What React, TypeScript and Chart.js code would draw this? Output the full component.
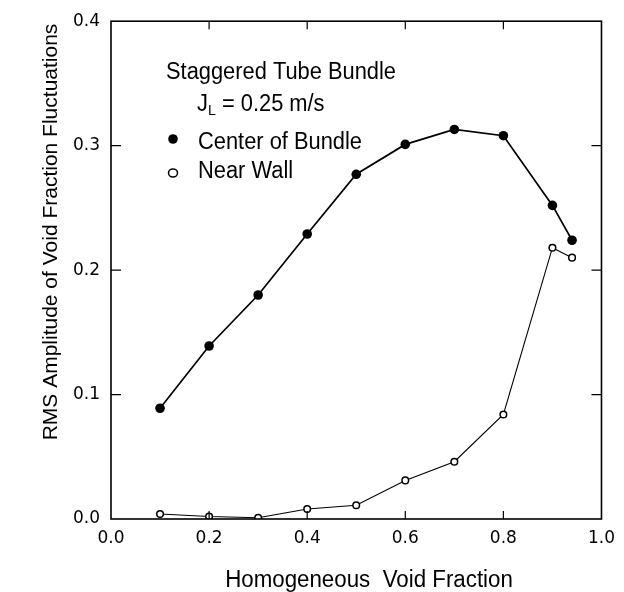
import React, { useEffect, useRef } from "react";
import { Chart, registerables } from "chart.js";

Chart.register(...registerables);

const xTickStep = 0.2;
const yTickStep = 0.1;
const centerX = [0.1, 0.2, 0.3, 0.4, 0.5, 0.6, 0.7, 0.8, 0.9, 0.94];
const centerY = [0.089, 0.139, 0.18, 0.229, 0.277, 0.301, 0.313, 0.308, 0.252, 0.224];
const wallX = [0.1, 0.2, 0.3, 0.4, 0.5, 0.6, 0.7, 0.8, 0.9, 0.94];
const wallY = [0.004, 0.002, 0.001, 0.008, 0.011, 0.031, 0.046, 0.084, 0.218, 0.21];
const xTitle = "Homogeneous  Void Fraction";
const yTitle = "RMS Amplitude of Void Fraction Fluctuations";
const legendTitle = "Staggered Tube Bundle";
const legendSub = ["J", "L", " = 0.25 m/s"];
const centerLabel = "Center of Bundle";
const wallLabel = "Near Wall";

const TEXT_FONT = "'Liberation Sans', Arial, sans-serif";
const TICK_FONT = "'DejaVu Sans', sans-serif";

function drawScaled(ctx: any, text: string, x: number, y: number, size: number, sx: number) {
  ctx.save();
  ctx.translate(x, y);
  ctx.scale(sx, 1);
  ctx.font = `${size}px ${TEXT_FONT}`;
  ctx.fillText(text, 0, 0);
  const w = ctx.measureText(text).width * sx;
  ctx.restore();
  return w;
}

const framePlugin = {
  id: "framePlugin",
  afterDraw(chart: any) {
    const { ctx, chartArea: a, scales } = chart;
    const xs = scales.x;
    const ys = scales.y;
    ctx.save();
    ctx.strokeStyle = "#000";
    ctx.lineWidth = 1.6;
    ctx.strokeRect(a.left, a.top, a.right - a.left, a.bottom - a.top);
    ctx.lineWidth = 1.2;
    const tl = 10;
    xs.ticks.forEach((t: any) => {
      const px = xs.getPixelForValue(t.value);
      if (px <= a.left + 1 || px >= a.right - 1) return;
      ctx.beginPath();
      ctx.moveTo(px, a.bottom);
      ctx.lineTo(px, a.bottom - tl + 2);
      ctx.moveTo(px, a.top);
      ctx.lineTo(px, a.top + tl - 2);
      ctx.stroke();
    });
    ys.ticks.forEach((t: any) => {
      const py = ys.getPixelForValue(t.value);
      if (py <= a.top + 1 || py >= a.bottom - 1) return;
      ctx.beginPath();
      ctx.moveTo(a.left, py);
      ctx.lineTo(a.left + tl, py);
      ctx.moveTo(a.right, py);
      ctx.lineTo(a.right - tl, py);
      ctx.stroke();
    });

    // axis titles
    ctx.fillStyle = "#000";
    ctx.textBaseline = "alphabetic";
    ctx.textAlign = "center";
    drawScaled(ctx, xTitle, 369, 587, 23, 0.97);
    ctx.save();
    ctx.translate(57, 232);
    ctx.rotate(-Math.PI / 2);
    ctx.font = `21px ${TEXT_FONT}`;
    ctx.fillText(yTitle, 0, 0);
    ctx.restore();

    // in-plot legend
    ctx.textAlign = "left";
    const sx = 0.95;
    drawScaled(ctx, legendTitle, 166, 79, 23, sx);
    const jw = drawScaled(ctx, legendSub[0], 197, 111, 23, sx);
    const lw = drawScaled(ctx, legendSub[1], 197 + jw, 115, 15, sx);
    drawScaled(ctx, legendSub[2], 197 + jw + lw, 111, 23, sx);
    drawScaled(ctx, centerLabel, 198, 149, 23, sx);
    drawScaled(ctx, wallLabel, 198, 178, 23, sx);
    ctx.beginPath();
    ctx.arc(173, 139, 4.8, 0, Math.PI * 2);
    ctx.fill();
    ctx.beginPath();
    ctx.lineWidth = 1.5;
    ctx.ellipse(173, 173, 4.5, 4, 0, 0, Math.PI * 2);
    ctx.stroke();
    ctx.restore();
  },
};

export default function App() {
  const ref = useRef<HTMLCanvasElement>(null);
  useEffect(() => {
    const chart = new Chart(ref.current as HTMLCanvasElement, {
      type: "scatter",
      data: {
        datasets: [
          {
            label: centerLabel,
            data: centerX.map((x, i) => ({ x, y: centerY[i] })),
            showLine: true,
            borderColor: "#000",
            backgroundColor: "#000",
            borderWidth: 1.7,
            pointRadius: 4.8,
            pointBorderWidth: 0,
            pointBackgroundColor: "#000",
          },
          {
            label: wallLabel,
            data: wallX.map((x, i) => ({ x, y: wallY[i] })),
            showLine: true,
            borderColor: "#000",
            backgroundColor: "#fff",
            borderWidth: 1.1,
            pointRadius: 3.3,
            pointBorderWidth: 1.5,
            pointBackgroundColor: "#fff",
            pointBorderColor: "#000",
          },
        ],
      },
      options: {
        responsive: false,
        animation: false,
        devicePixelRatio: 1,
        layout: { padding: { top: 20, right: 14, left: 0, bottom: 0 } },
        plugins: { legend: { display: false }, tooltip: { enabled: false } },
        scales: {
          x: {
            type: "linear",
            min: 0,
            max: 1,
            afterFit: (s: any) => {
              s.height = 73;
            },
            grid: { display: false, drawTicks: false },
            border: { display: false },
            ticks: {
              stepSize: xTickStep,
              autoSkip: false,
              maxRotation: 0,
              padding: 9,
              color: "#000",
              font: { family: TICK_FONT, size: 17 },
              callback: (v: any) => Number(v).toFixed(1),
            },
          },
          y: {
            type: "linear",
            min: 0,
            max: 0.4,
            afterFit: (s: any) => {
              s.width = 111;
            },
            grid: { display: false, drawTicks: false },
            border: { display: false },
            ticks: {
              stepSize: yTickStep,
              autoSkip: false,
              padding: 11,
              color: "#000",
              font: { family: TICK_FONT, size: 17 },
              callback: (v: any) => Number(v).toFixed(1),
            },
          },
        },
      },
      plugins: [framePlugin],
    });
    return () => chart.destroy();
  }, []);
  return (
    <div style={{ position: "fixed", left: 0, top: 0, width: 624, height: 592, background: "#fff" }}>
      <canvas ref={ref} width={624} height={592} style={{ width: 624, height: 592, display: "block" }} />
    </div>
  );
}
